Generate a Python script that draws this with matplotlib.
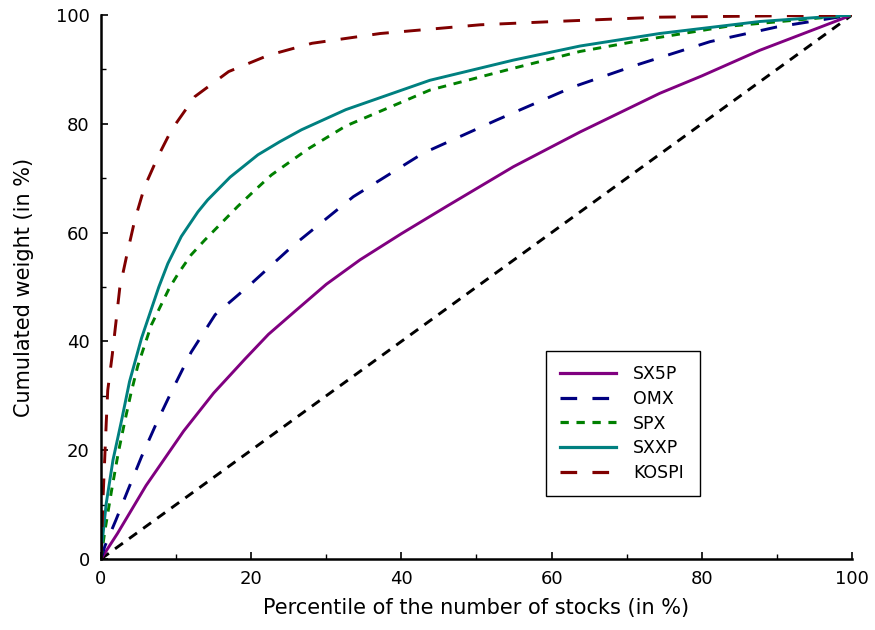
import matplotlib
matplotlib.use("Agg")
import matplotlib.pyplot as plt
from matplotlib.ticker import MultipleLocator

plt.rcParams['lines.scale_dashes'] = False
plt.rcParams['font.family'] = ['DejaVu Sans']

# Data (percentile of stocks, cumulated weight)
sx5p_x = [0, 2.2, 6.0, 11.0, 15.0, 19.2, 22.3, 25.8, 30.0, 34.5, 40.0, 46.0, 54.9, 63.8, 74.4, 80.0, 87.7, 100]
sx5p_y = [0, 4.7, 13.5, 23.5, 30.5, 36.8, 41.3, 45.5, 50.5, 55.0, 59.8, 64.8, 72.1, 78.5, 85.6, 88.8, 93.5, 100]

omx_x = [0, 0.5, 2.0, 3.6, 5.4, 7.4, 9.4, 12.0, 15.2, 20.0, 25.4, 33.6, 42.9, 52.7, 62.9, 71.3, 81.1, 90.0, 100]
omx_y = [0, 2.3, 7.2, 12.7, 18.8, 25.0, 30.8, 38.0, 44.9, 50.6, 57.4, 66.6, 74.6, 80.7, 86.8, 90.8, 95.1, 97.8, 100]

spx_x = [0, 0.5, 1.4, 2.3, 3.2, 4.0, 4.9, 6.7, 9.1, 10.3, 12.0, 13.8, 16.0, 18.2, 20.5, 22.7, 27.6, 32.6, 43.8, 54.9, 63.8, 72.2, 83.3, 100]
spx_y = [0, 5.0, 12.5, 19.5, 25.5, 30.5, 35.5, 43.0, 49.8, 52.5, 55.9, 58.6, 61.7, 64.8, 67.8, 70.6, 75.4, 79.6, 86.2, 90.2, 93.3, 95.4, 97.9, 100]

sxxp_x = [0, 0.1, 0.7, 1.6, 2.7, 3.8, 5.4, 7.7, 8.9, 10.7, 12.9, 14.2, 17.2, 20.9, 23.8, 26.7, 32.6, 43.8, 54.9, 63.8, 74.4, 87.7, 100]
sxxp_y = [0, 2.3, 10.2, 18.2, 25.2, 32.6, 40.6, 50.0, 54.3, 59.3, 63.8, 66.0, 70.2, 74.3, 76.7, 78.9, 82.6, 88.0, 91.7, 94.3, 96.6, 98.8, 100]

kospi_x = [0, 0.3, 0.7, 0.9, 1.5, 2.0, 2.5, 3.4, 4.5, 5.8, 7.6, 9.4, 12.5, 17.0, 22.3, 28.1, 37.2, 50.5, 62.0, 74.4, 100]
kospi_y = [0, 12.0, 25.0, 31.0, 37.5, 43.6, 49.8, 55.6, 62.3, 68.4, 74.0, 78.9, 85.0, 89.6, 92.6, 94.8, 96.6, 98.2, 98.9, 99.6, 100]

diag_x = [0, 100]
diag_y = [0, 100]

fig = plt.figure(figsize=(8.75, 6.3), dpi=100)
ax = fig.add_axes([0.1154, 0.1127, 0.8583, 0.8635])

lw = 2.1
ax.plot(diag_x, diag_y, color='black', lw=lw, dashes=(7, 5.5), zorder=1)
l1, = ax.plot(sx5p_x, sx5p_y, color='#800080', lw=lw, label='SX5P')
l2, = ax.plot(omx_x, omx_y, color='#000080', lw=lw, dashes=(12, 11), label='OMX')
l3, = ax.plot(spx_x, spx_y, color='#008000', lw=lw, dashes=(6, 5.5), label='SPX')
l4, = ax.plot(sxxp_x, sxxp_y, color='#008080', lw=lw, label='SXXP')
l5, = ax.plot(kospi_x, kospi_y, color='#800000', lw=lw, dashes=(12, 11), label='KOSPI')

ax.set_xlim(0, 100)
ax.set_ylim(0, 100)
ax.spines['top'].set_visible(False)
ax.spines['right'].set_visible(False)
for s in ('left', 'bottom'):
    ax.spines[s].set_linewidth(1.8)
ax.xaxis.set_major_locator(MultipleLocator(20))
ax.xaxis.set_minor_locator(MultipleLocator(10))
ax.yaxis.set_major_locator(MultipleLocator(20))
ax.yaxis.set_minor_locator(MultipleLocator(10))
ax.tick_params(which='major', direction='in', length=5, width=1.2, labelsize=13, pad=8)
ax.tick_params(which='minor', direction='in', length=3.5, width=1.0)

ax.set_xlabel('Percentile of the number of stocks (in %)', fontsize=15, labelpad=7)
ax.set_ylabel('Cumulated weight (in %)', fontsize=15, labelpad=16)

leg = ax.legend(handles=[l1, l2, l3, l4, l5], loc='lower left',
                bbox_to_anchor=(0.5925, 0.1158, 0.205, 0.268), mode='expand',
                borderaxespad=0, fontsize=12.5, handlelength=3.2, fancybox=False,
                framealpha=1, edgecolor='black', borderpad=0.82, labelspacing=0.38,
                handletextpad=1.0)
leg.get_frame().set_linewidth(1.0)
for line in leg.get_lines():
    line.set_linewidth(2.3)

fig.savefig('out.png', dpi=100)
